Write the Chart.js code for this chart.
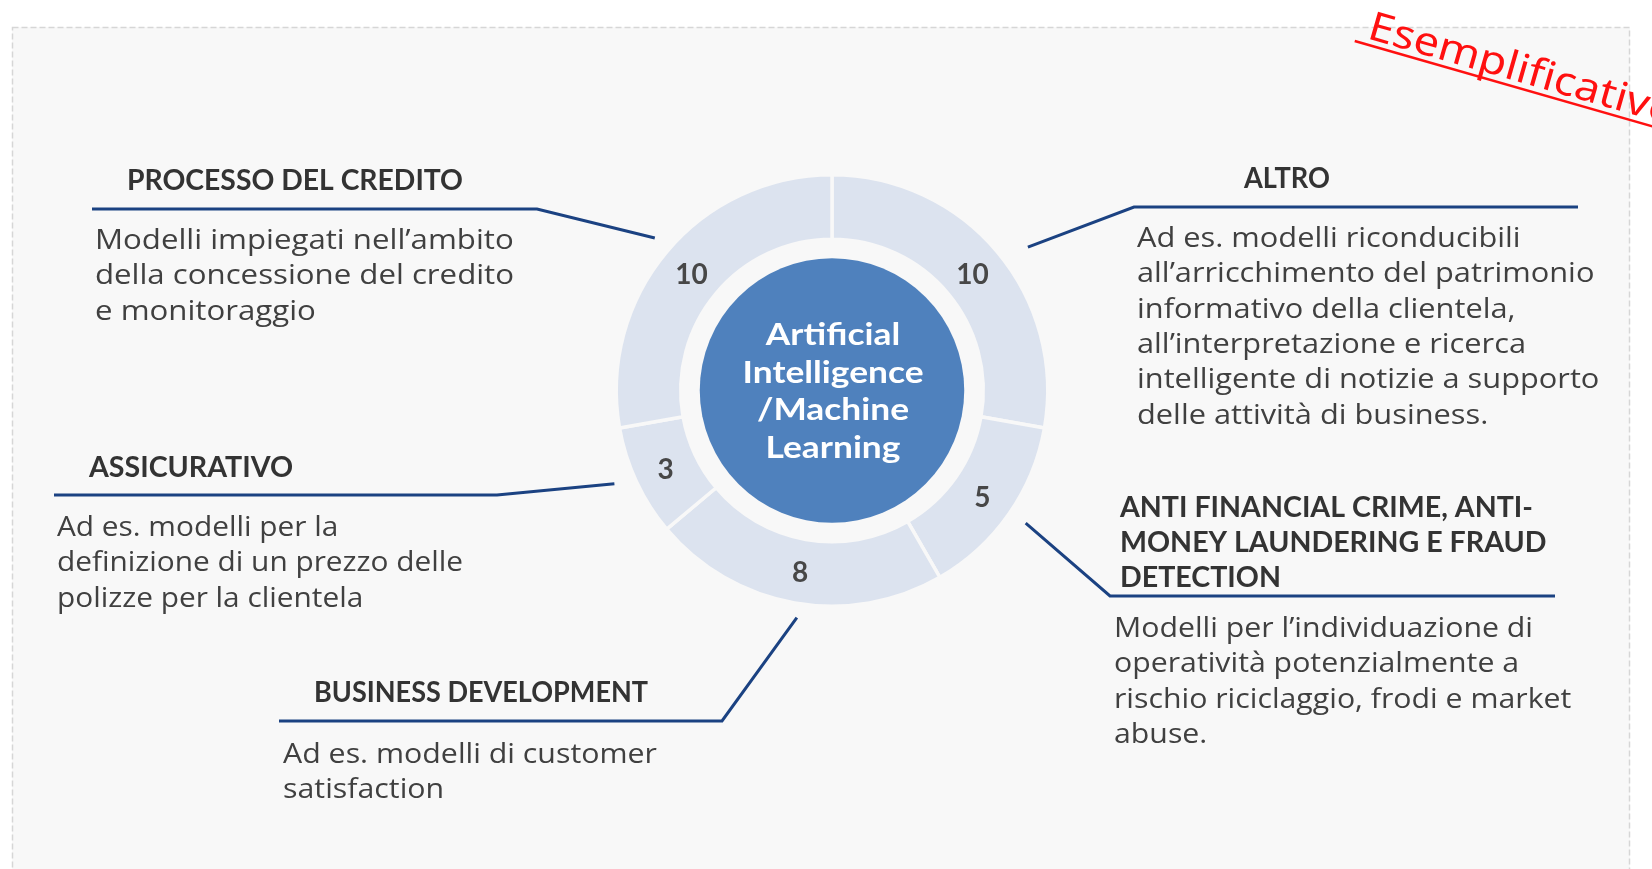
<!DOCTYPE html>
<html lang="it">
<head>
<meta charset="utf-8">
<title>Modelli AI/ML per ambito</title>
<script src="https://cdn.jsdelivr.net/npm/chart.js@4"></script>
<style>
  html, body { margin: 0; padding: 0; background: #fff; }
  #box { position: relative; width: 1652px; height: 869px; }
</style>
</head>
<body>
<div id="box"><canvas id="grafico"></canvas></div>
<script>
// ambiti, in senso orario partendo dall'alto
const ambiti = ['Altro', 'Anti Financial Crime, AML e Fraud Detection', 'Business Development', 'Assicurativo', 'Processo del credito'];
const numeroModelli = [10, 5, 8, 3, 10];

const titoli = [
  ['ALTRO'],
  ['ANTI FINANCIAL CRIME, ANTI-', 'MONEY LAUNDERING E FRAUD', 'DETECTION'],
  ['BUSINESS DEVELOPMENT'],
  ['ASSICURATIVO'],
  ['PROCESSO DEL CREDITO']
];

const descrizioni = [
  ['Ad es. modelli riconducibili', 'all’arricchimento del patrimonio', 'informativo della clientela,', 'all’interpretazione e ricerca', 'intelligente di notizie a supporto', 'delle attività di business.'],
  ['Modelli per l’individuazione di', 'operatività potenzialmente a', 'rischio riciclaggio, frodi e market', 'abuse.'],
  ['Ad es. modelli di customer', 'satisfaction'],
  ['Ad es. modelli per la', 'definizione di un prezzo delle', 'polizze per la clientela'],
  ['Modelli impiegati nell’ambito', 'della concessione del credito', 'e monitoraggio']
];

const testoCentro = ['Artificial', 'Intelligence', '/Machine', 'Learning'];
const timbro = 'Esemplificativo';

// dove stanno i richiami (pixel): attacco sull'anello [gradi, distanza], gomito, fine linea,
// titolo [x, baseline, larghezza], testo [x, baseline, riga di riferimento, larghezza]
const richiami = [
  { attacco: [3.8, 27], gomito: [1134, 207], fine: 1578, titolo: [1244, 188, 86], testo: [1137, 247, 3, 389] },
  { attacco: [-0.6, 19], gomito: [1110, 596], fine: 1555, titolo: [1120, 517, 413], testo: [1114, 637, 0, 419] },
  { attacco: [-1.2, 14], gomito: [722, 721], fine: 279, titolo: [314, 702, 334], testo: [283, 763, 0, 374] },
  { attacco: [1.8, 21], gomito: [497, 495], fine: 54, titolo: [89, 477, 204], testo: [57, 536, 1, 406] },
  { attacco: [0.7, 18], gomito: [537, 209], fine: 92, titolo: [127, 190, 336], testo: [95, 249, 1, 419] }
];

const FONT_TITOLO = 'bold 29px Lato';
const FONT_TESTO = '27px "Open Sans"';
const BLU_LINEA = '#1b4282';

function scriviRighe(ctx, righe, x, y, passo, rif, larghezza) {
  const s = larghezza / ctx.measureText(righe[rif]).width;
  righe.forEach((riga, i) => {
    ctx.save();
    ctx.translate(x, y + i * passo);
    ctx.scale(s, 1);
    ctx.fillText(riga, 0, 0);
    ctx.restore();
  });
}

const sfondo = {
  id: 'sfondo',
  beforeDraw(chart) {
    const ctx = chart.ctx;
    ctx.save();
    ctx.fillStyle = '#ffffff';
    ctx.fillRect(0, 0, chart.width, chart.height);
    ctx.fillStyle = '#f8f8f8';
    ctx.fillRect(12, 27, 1618, 900);
    ctx.strokeStyle = '#d6d6d6';
    ctx.lineWidth = 1.5;
    ctx.setLineDash([6, 3]);
    ctx.strokeRect(12.5, 27.5, 1617, 900);
    ctx.restore();
  },
  afterDraw(chart) {
    // timbro rosso in alto a destra
    const ctx = chart.ctx;
    ctx.save();
    ctx.translate(1366, 38);
    ctx.rotate(16 * Math.PI / 180);
    ctx.fillStyle = '#ff1010';
    ctx.font = '40px "Comic Sans MS", "Noto Sans", sans-serif';
    const s = 318 / ctx.measureText(timbro).width;
    ctx.save();
    ctx.scale(s, 1);
    ctx.fillText(timbro, 0, 0);
    ctx.restore();
    ctx.strokeStyle = '#ff1010';
    ctx.lineWidth = 2.5;
    ctx.beginPath();
    ctx.moveTo(-10, 6);
    ctx.lineTo(320, 6);
    ctx.stroke();
    ctx.restore();
  }
};

const etichette = {
  id: 'etichette',
  afterDatasetsDraw(chart) {
    const ctx = chart.ctx;
    const archi = chart.getDatasetMeta(0).data;
    const cx = archi[0].x, cy = archi[0].y;
    ctx.save();

    // cerchio centrale
    ctx.fillStyle = '#4f81bd';
    ctx.beginPath();
    ctx.arc(cx, cy, archi[0].innerRadius - 19, 0, Math.PI * 2);
    ctx.fill();
    ctx.fillStyle = '#ffffff';
    ctx.font = 'bold 30px Lato';
    ctx.textAlign = 'center';
    ctx.textBaseline = 'alphabetic';
    const sc = 181 / ctx.measureText(testoCentro[1]).width;
    testoCentro.forEach((riga, i) => {
      ctx.save();
      ctx.translate(cx + 1, 345 + i * 37.5);
      ctx.scale(sc, 1);
      ctx.fillText(riga, 0, 0);
      ctx.restore();
    });

    // numeri sugli spicchi
    ctx.fillStyle = '#474747';
    ctx.font = 'bold 28px Lato';
    ctx.textBaseline = 'middle';
    archi.forEach((arco, i) => {
      const p = arco.tooltipPosition();
      ctx.fillText(String(numeroModelli[i]), p.x, p.y + 2);
    });

    // linee di richiamo, titoli e descrizioni
    ctx.textAlign = 'left';
    ctx.textBaseline = 'alphabetic';
    archi.forEach((arco, i) => {
      const r = richiami[i];
      const ang = (arco.startAngle + arco.endAngle) / 2 + r.attacco[0] * Math.PI / 180;
      const rad = arco.outerRadius + r.attacco[1];
      ctx.strokeStyle = BLU_LINEA;
      ctx.lineWidth = 3;
      ctx.lineJoin = 'miter';
      ctx.beginPath();
      ctx.moveTo(cx + Math.cos(ang) * rad, cy + Math.sin(ang) * rad);
      ctx.lineTo(r.gomito[0], r.gomito[1]);
      ctx.lineTo(r.fine, r.gomito[1]);
      ctx.stroke();

      ctx.fillStyle = '#333333';
      ctx.font = FONT_TITOLO;
      scriviRighe(ctx, titoli[i], r.titolo[0], r.titolo[1], 35, 0, r.titolo[2]);

      ctx.fillStyle = '#404040';
      ctx.font = FONT_TESTO;
      scriviRighe(ctx, descrizioni[i], r.testo[0], r.testo[1], 35.3, r.testo[2], r.testo[3]);
    });
    ctx.restore();
  }
};

const ctx = document.getElementById('grafico').getContext('2d');
new Chart(ctx, {
  type: 'doughnut',
  data: {
    labels: ambiti,
    datasets: [{
      data: numeroModelli,
      backgroundColor: '#dce3ef',
      borderColor: '#f8f8f8',
      borderWidth: 3.5,
      offset: 0,
      hoverOffset: 0
    }]
  },
  options: {
    responsive: true,
    maintainAspectRatio: false,
    animation: false,
    events: [],
    cutout: '70.1%',
    layout: { padding: { left: 614.5, right: 602.5, top: 173, bottom: 261 } },
    plugins: { legend: { display: false }, tooltip: { enabled: false } }
  },
  plugins: [sfondo, etichette]
});
</script>
</body>
</html>
